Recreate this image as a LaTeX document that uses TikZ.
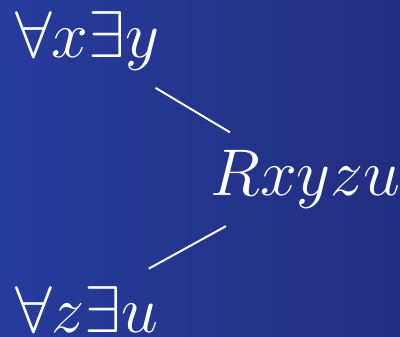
\RequirePackage{fix-cm}
\documentclass[tikz,border=0pt]{standalone}
\usepackage{amsmath,amssymb}
\usepackage{tikz}
\usetikzlibrary{positioning,calc}
\usepackage{xcolor}
\definecolor{bgleft}{HTML}{263C9C}
\definecolor{bgright}{HTML}{222E80}

\begin{document}
\begin{tikzpicture}[formula/.style={inner sep=0pt,text=white,font=\fontsize{47}{56}\selectfont},
  edge/.style={white,line width=1.4pt}]
\fill[left color=bgleft,right color=bgright] (0,0) rectangle (10,8.4);
\useasboundingbox (0,0) rectangle (10,8.4);
\node[formula,anchor=base west] (top) at (0.375,6.95) {$\forall x\exists y$};
\node[formula,anchor=base west] (rel) at (5.25,3.525) {$Rxyzu$};
\node[formula,anchor=base west] (bot) at (0.375,0.1) {$\forall z\exists u$};
\draw[edge] ([xshift=-0.1cm,yshift=-0.42cm]top.south east) -- ([xshift=0.5cm,yshift=0.43cm]rel.north west);
\draw[edge] ([xshift=0.4cm,yshift=-0.45cm]rel.south west) -- ([xshift=-0.25cm,yshift=0.43cm]bot.north east);
\end{tikzpicture}
\end{document}
